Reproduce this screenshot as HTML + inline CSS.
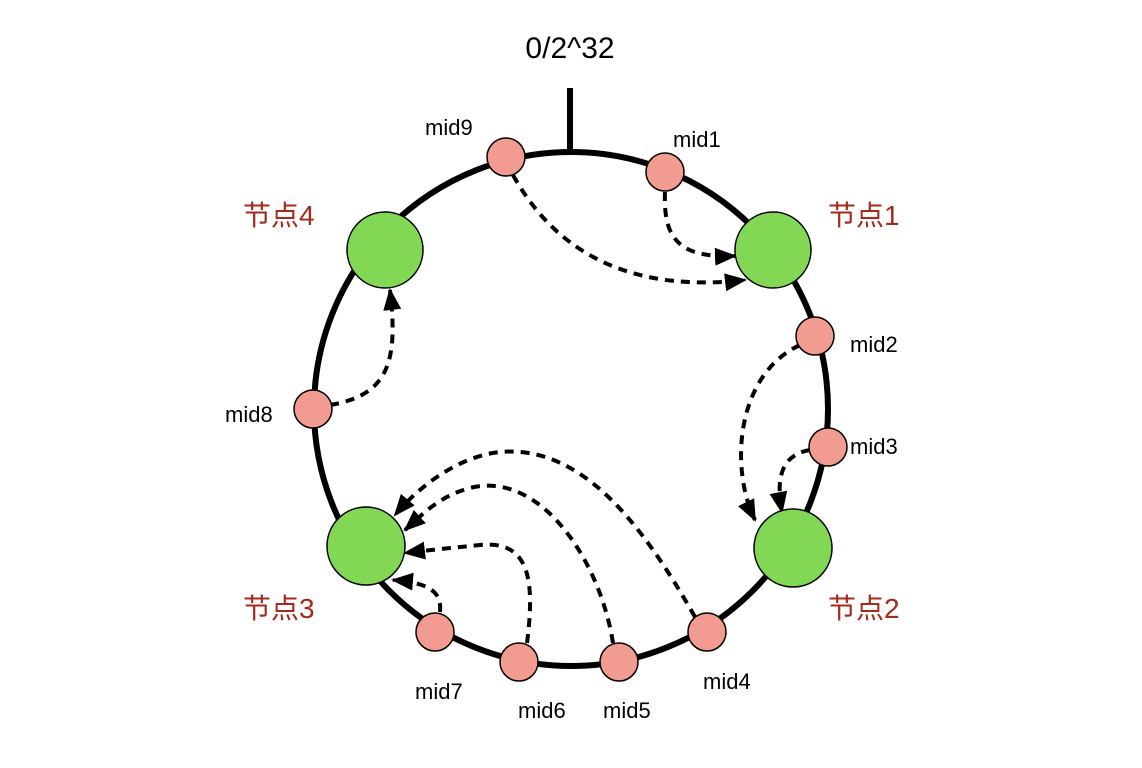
<!DOCTYPE html>
<html><head><meta charset="utf-8"><style>
html,body{margin:0;padding:0;background:#fff;}
svg{display:block;}
text{font-family:"Liberation Sans","Noto Sans CJK SC",sans-serif;}
</style></head><body>
<svg width="1142" height="768" viewBox="0 0 1142 768">
<defs>
<marker id="ar" viewBox="0 0 22 18" refX="20" refY="9" markerWidth="22" markerHeight="18" orient="auto" markerUnits="userSpaceOnUse">
<path d="M0,0 L22,9 L0,18 Z" fill="#000"/>
</marker>
</defs>
<circle cx="571" cy="409" r="257" fill="none" stroke="#000" stroke-width="6"/>
<line x1="570" y1="88" x2="570" y2="155" stroke="#000" stroke-width="6"/>
<text x="570" y="58" font-size="30" text-anchor="middle">0/2^32</text>
<g fill="none" stroke="#000" stroke-width="4" stroke-dasharray="9,7" marker-end="url(#ar)">
<path d="M513,175 C560,260 640,292 745,280"/>
<path d="M665,192 C663,240 680,258 735,256"/>
<path d="M800,345 C735,375 730,470 755,520"/>
<path d="M810,450 C780,455 776,480 782,512"/>
<path d="M695,617 C640,520 580,445 500,452 C460,456 420,485 395,515"/>
<path d="M613,643 C600,560 540,470 470,488 C440,496 425,512 405,530"/>
<path d="M527,643 C535,580 530,540 480,545 C450,548 430,550 405,553"/>
<path d="M440,612 C442,592 430,583 393,580"/>
<path d="M330,405 C390,395 398,360 390,290"/>
</g>
<g fill="#82d855" stroke="#000" stroke-width="1.5">
<circle cx="385" cy="250" r="38"/>
<circle cx="773" cy="250" r="38"/>
<circle cx="366" cy="546" r="39"/>
<circle cx="793" cy="548" r="39"/>
</g>
<g fill="#f29b90" stroke="#000" stroke-width="1.5">
<circle cx="506" cy="157" r="19"/>
<circle cx="665" cy="172" r="19"/>
<circle cx="815" cy="336" r="19"/>
<circle cx="828" cy="447" r="19"/>
<circle cx="707" cy="632" r="19"/>
<circle cx="619" cy="662" r="19"/>
<circle cx="519" cy="662" r="19"/>
<circle cx="435" cy="632" r="19"/>
<circle cx="313" cy="409" r="19"/>
</g>
<g font-size="22" fill="#000">
<text x="425" y="135">mid9</text>
<text x="673" y="147">mid1</text>
<text x="850" y="352">mid2</text>
<text x="850" y="454">mid3</text>
<text x="703" y="689">mid4</text>
<text x="603" y="718">mid5</text>
<text x="518" y="718">mid6</text>
<text x="415" y="699">mid7</text>
<text x="225" y="422">mid8</text>
</g>
<g font-size="28" fill="#a52a1a">
<text x="243" y="225">节点4</text>
<text x="828" y="225">节点1</text>
<text x="243" y="618">节点3</text>
<text x="828" y="618">节点2</text>
</g>
</svg>
</body></html>
